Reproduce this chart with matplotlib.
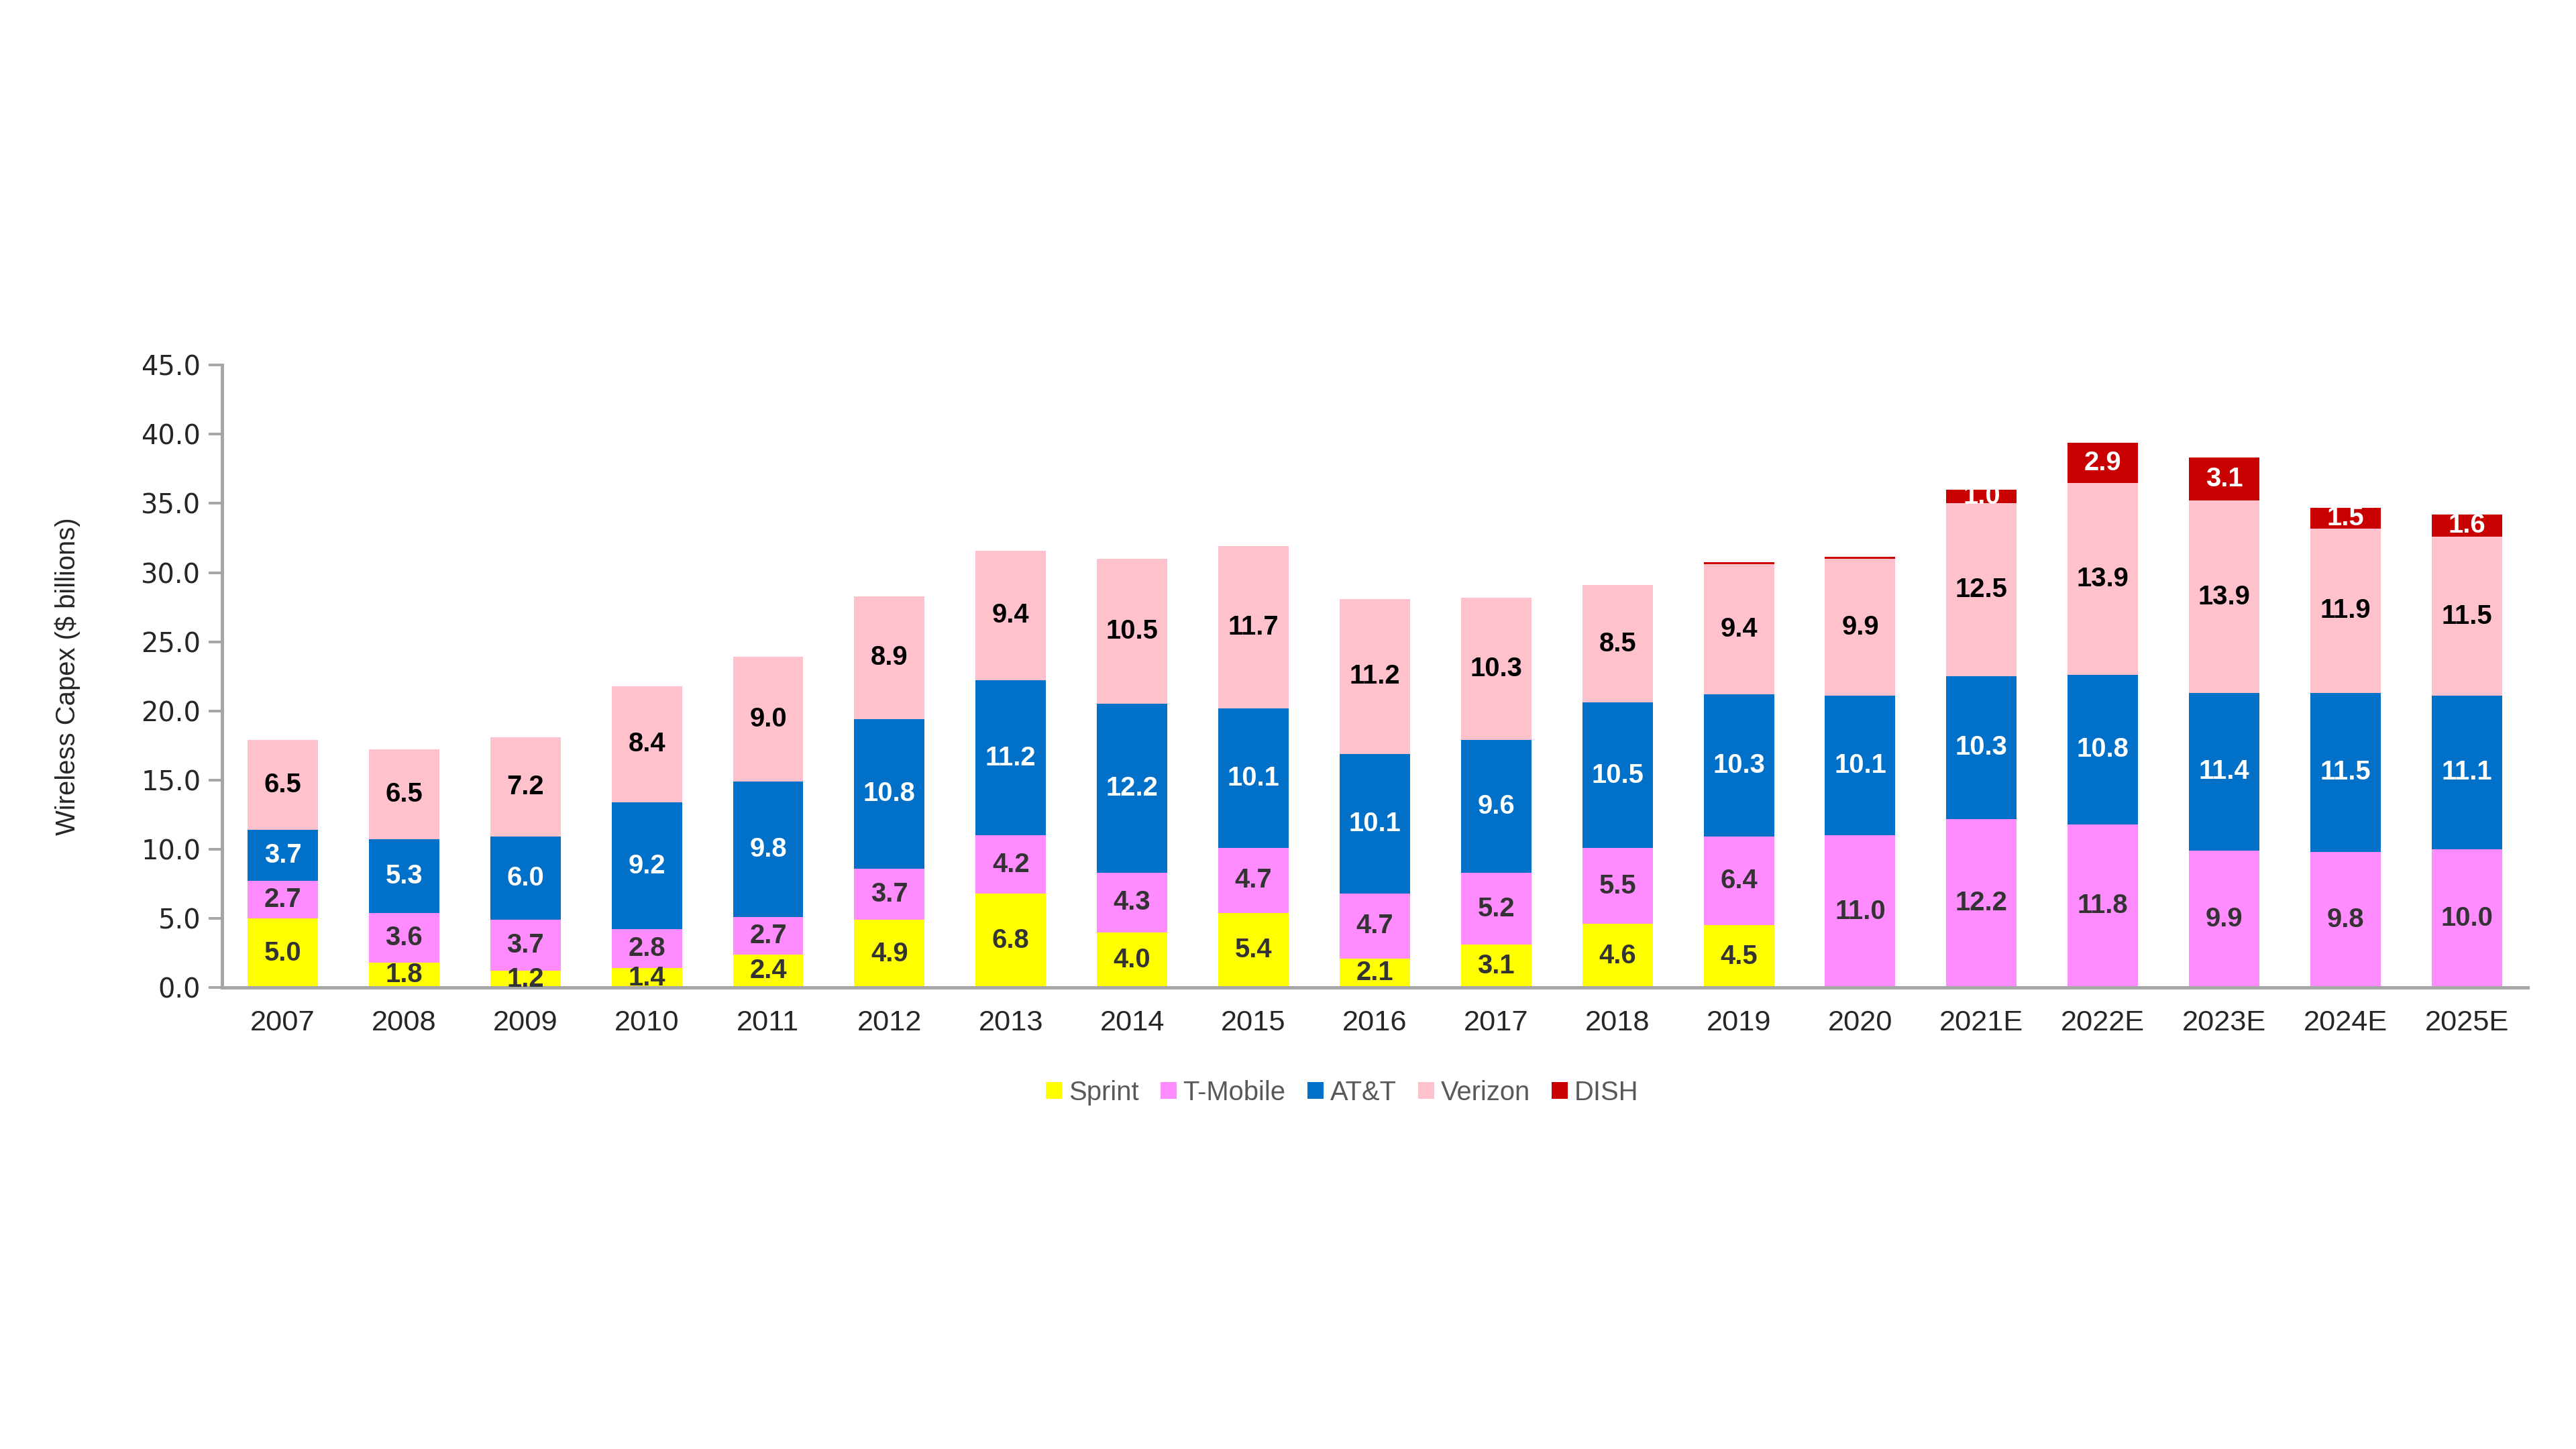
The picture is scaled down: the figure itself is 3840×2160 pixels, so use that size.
import matplotlib.pyplot as plt
import numpy as np

years = ['2007', '2008', '2009', '2010', '2011', '2012', '2013', '2014', '2015', '2016',
         '2017', '2018', '2019', '2020', '2021E', '2022E', '2023E', '2024E', '2025E']
sprint = [5.0, 1.8, 1.2, 1.4, 2.4, 4.9, 6.8, 4.0, 5.4, 2.1, 3.1, 4.6, 4.5, 0, 0, 0, 0, 0, 0]
tmobile = [2.7, 3.6, 3.7, 2.8, 2.7, 3.7, 4.2, 4.3, 4.7, 4.7, 5.2, 5.5, 6.4, 11.0, 12.2, 11.8, 9.9, 9.8, 10.0]
att = [3.7, 5.3, 6.0, 9.2, 9.8, 10.8, 11.2, 12.2, 10.1, 10.1, 9.6, 10.5, 10.3, 10.1, 10.3, 10.8, 11.4, 11.5, 11.1]
verizon = [6.5, 6.5, 7.2, 8.4, 9.0, 8.9, 9.4, 10.5, 11.7, 11.2, 10.3, 8.5, 9.4, 9.9, 12.5, 13.9, 13.9, 11.9, 11.5]
dish = [0, 0, 0, 0, 0, 0, 0, 0, 0, 0, 0, 0, 0.15, 0.15, 1.0, 2.9, 3.1, 1.5, 1.6]

series = [
    ('Sprint', sprint, '#ffff00', '#333333'),
    ('T-Mobile', tmobile, '#ff8cff', '#333333'),
    ('AT&T', att, '#0070c8', 'white'),
    ('Verizon', verizon, '#ffc2cc', 'black'),
    ('DISH', dish, '#c80000', 'white'),
]

plt.rcParams['font.family'] = ['Liberation Sans', 'DejaVu Sans']

fig = plt.figure(figsize=(16, 9), dpi=240)
ax = fig.add_axes([0.0862, 0.3185, 0.895, 0.4295])

x = np.arange(len(years))
bottom = np.zeros(len(years))
for name, vals, color, tcolor in series:
    vals = np.array(vals)
    ax.bar(x, vals, 0.58, bottom=bottom, color=color, label=name, zorder=2)
    for i, v in enumerate(vals):
        if v >= 0.5:
            ax.text(x[i], bottom[i] + v / 2, f'{v:.1f}', ha='center', va='center',
                    fontsize=12, fontweight='bold', color=tcolor, zorder=3)
    bottom += vals

ax.set_xlim(-0.5, len(years) - 0.5)
ax.set_ylim(0, 45)
ax.set_yticks(np.arange(0, 46, 5))
ax.set_yticklabels([f'{t:.1f}' for t in np.arange(0, 46, 5)], family='DejaVu Sans')
ax.set_xticks(x)
ax.set_xticklabels(years)
ax.tick_params(axis='x', length=0, pad=10, labelsize=13, labelcolor='#262626')
ax.tick_params(axis='y', length=6, width=1.2, color='#a6a6a6', labelsize=12, labelcolor='#262626')
for s in ['top', 'right']:
    ax.spines[s].set_visible(False)
for s in ['left', 'bottom']:
    ax.spines[s].set_color('#a6a6a6')
    ax.spines[s].set_linewidth(1.5)

ax.set_ylabel('Wireless Capex ($ billions)', fontsize=12, color='#262626', labelpad=27)

leg = fig.legend(loc='center', bbox_to_anchor=(0.521, 0.246), ncol=5, frameon=False,
                 fontsize=12, handlelength=0.6, handleheight=0.6, handletextpad=0.25,
                 columnspacing=0.8)
for t in leg.get_texts():
    t.set_color('#595959')

fig.savefig('out.png', dpi=240)
